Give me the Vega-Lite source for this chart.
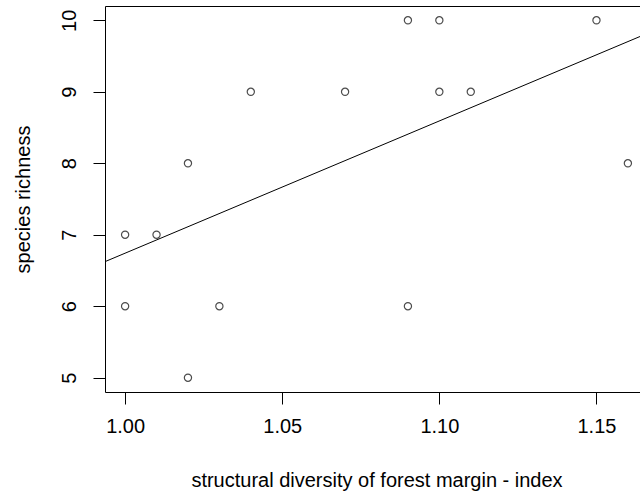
{
  "$schema": "https://vega.github.io/schema/vega-lite/v6.json",
  "autosize": {"type": "none"},
  "padding": {"left": 105, "top": 6, "right": 0, "bottom": 101},
  "width": 543,
  "height": 386,
  "background": "white",
  "config": {
    "view": {"stroke": "black", "strokeWidth": 1},
    "font": "Liberation Sans",
    "axis": {
      "grid": false, "domain": false, "tickColor": "black", "tickSize": 12, "tickWidth": 1,
      "labelColor": "black", "labelFontSize": 20, "titleFontSize": 20, "titleColor": "black",
      "titleFontWeight": "normal", "labelFont": "Liberation Sans", "titleFont": "Liberation Sans"
    }
  },
  "datasets": {
    "points": [
      {"x": 1.00, "y": 7}, {"x": 1.00, "y": 6}, {"x": 1.01, "y": 7}, {"x": 1.02, "y": 8},
      {"x": 1.02, "y": 5}, {"x": 1.03, "y": 6}, {"x": 1.04, "y": 9}, {"x": 1.07, "y": 9},
      {"x": 1.09, "y": 10}, {"x": 1.09, "y": 6}, {"x": 1.10, "y": 10}, {"x": 1.10, "y": 9},
      {"x": 1.11, "y": 9}, {"x": 1.15, "y": 10}, {"x": 1.16, "y": 8}
    ],
    "fit": [
      {"x": 0.99, "y": 6.557}, {"x": 1.17, "y": 9.887}
    ]
  },
  "layer": [
    {
      "data": {"name": "points"},
      "mark": {"type": "point", "shape": "circle", "filled": false, "color": "black", "strokeWidth": 1.2, "size": 52},
      "encoding": {
        "x": {"field": "x", "type": "quantitative",
              "scale": {"domain": [0.9936, 1.1664], "nice": false, "zero": false},
              "axis": {"values": [1.00, 1.05, 1.10, 1.15], "format": ".2f", "labelPadding": 12,
                       "title": "structural diversity of forest margin - index", "titlePadding": 34}},
        "y": {"field": "y", "type": "quantitative",
              "scale": {"domain": [4.8, 10.2], "nice": false, "zero": false},
              "axis": {"values": [5, 6, 7, 8, 9, 10], "format": "d", "labelAngle": -90, "labelAlign": "center", "labelBaseline": "bottom",
                       "labelPadding": 14, "title": "species richness", "titlePadding": 26}}
      }
    },
    {
      "data": {"name": "fit"},
      "mark": {"type": "line", "color": "black", "strokeWidth": 1, "clip": true},
      "encoding": {
        "x": {"field": "x", "type": "quantitative"},
        "y": {"field": "y", "type": "quantitative"}
      }
    }
  ]
}
